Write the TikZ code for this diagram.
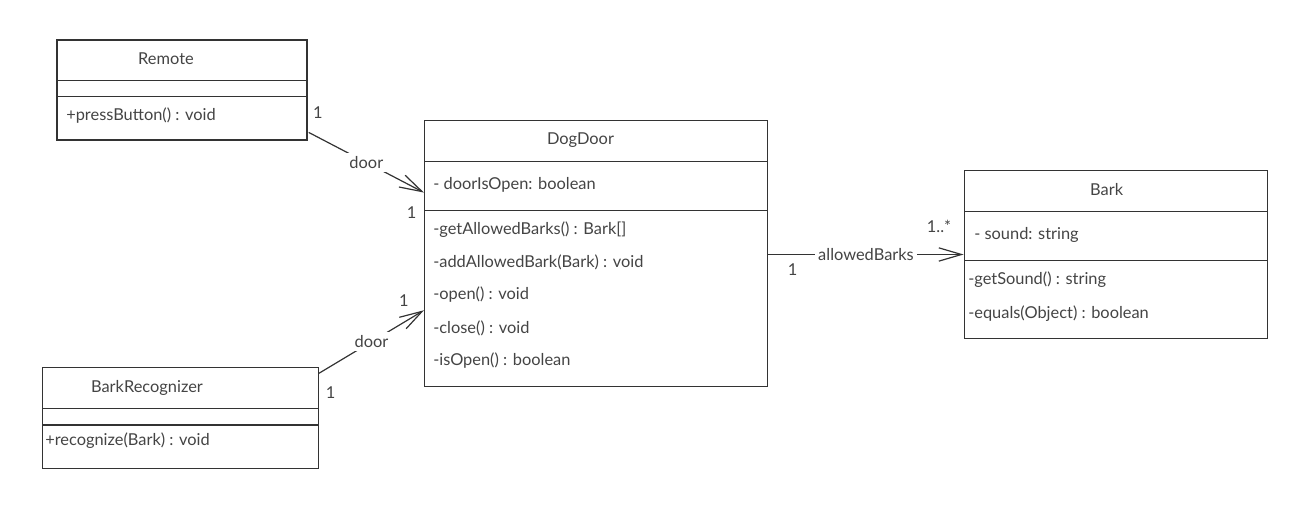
\documentclass[tikz,border=0pt]{standalone}
\usepackage{fontspec}
\setmainfont{Lato}
\usetikzlibrary{arrows.meta,calc}
\definecolor{umlline}{HTML}{333333}
\definecolor{umltext}{HTML}{444444}
\tikzset{
  classbox/.style={draw=umlline, line width=1.1pt, inner sep=0pt},
  divider/.style={draw=umlline, line width=1.1pt},
  title/.style={text=umltext, inner sep=0pt},
  member/.style={anchor=west, text=umltext, inner sep=0pt},
  assoc/.style={draw=umlline, line width=0.9pt, -{Straight Barb[length=17pt,width=10pt]}},
  role/.style={fill=white, text=umltext, inner sep=2.5pt},
  mult/.style={text=umltext, inner sep=0pt},
}

\begin{document}
\begin{tikzpicture}[x=0.75pt, y=-0.75pt, font=\fontsize{12.3}{14}\selectfont]
  \useasboundingbox (0,0) rectangle (1304,509);

  % Remote
  \node[classbox, minimum width=187.5pt, minimum height=75pt] (remote) at (182,90) {};
  \draw[divider] (57,80.7) -- (307,80.7) (57,96.7) -- (307,96.7);
  \node[title] (remoteName) at (166,59) {Remote};
  \node[member] (pressButton) at (66,116) {+pressButton() : void};

  % BarkRecognizer
  \node[classbox, minimum width=206.7pt, minimum height=75.75pt] (recog) at (180.5,417.8) {};
  \draw[divider] (42.7,408.3) -- (318.3,408.3) (42.7,425) -- (318.3,425);
  \node[title] (recogName) at (147,387.5) {BarkRecognizer};
  \node[member] (recognize) at (45,441) {+recognize(Bark) : void};

  % DogDoor
  \node[classbox, minimum width=257.25pt, minimum height=199.5pt] (dogdoor) at (596.2,253.7) {};
  \draw[divider] (424.7,161.7) -- (767.7,161.7) (424.7,210.7) -- (767.7,210.7);
  \node[title] (dogdoorName) at (580.5,140) {DogDoor};
  \node[member] (doorIsOpen) at (433,185) {- doorIsOpen: boolean};
  \node[member] (getAllowed) at (433,230) {-getAllowedBarks() : Bark[]};
  \node[member] (addAllowed) at (433,262.7) {-addAllowedBark(Bark) : void};
  \node[member] (open) at (433,295) {-open() : void};
  \node[member] (close) at (433,328.3) {-close() : void};
  \node[member] (isOpen) at (433,360.7) {-isOpen() : boolean};

  % Bark
  \node[classbox, minimum width=227.5pt, minimum height=125.7pt] (bark) at (1116,254.5) {};
  \draw[divider] (964.3,211.7) -- (1267.7,211.7) (964.3,260.7) -- (1267.7,260.7);
  \node[title] (barkName) at (1106.7,190) {Bark};
  \node[member] (sound) at (974,235) {- sound: string};
  \node[member] (getSound) at (968,279.3) {-getSound() : string};
  \node[member] (equals) at (968,313.3) {-equals(Object) : boolean};

  % associations
  \draw[assoc] ($(remote.south east)+(1,-8.3)$) -- node[role] (doorA) {door} ($(dogdoor.north west)+(0,72.6)$);
  \draw[assoc] ($(recog.north east)+(0,6.7)$) -- node[role] (doorB) {door} ($(dogdoor.north west)+(0,190.3)$);
  \draw[assoc] (dogdoor.east |- bark.west) -- node[role] (allowed) {allowedBarks} (bark.west);

  % multiplicities
  \node[mult] (mRemote) at (318,113) {1};
  \node[mult] (mDoorA) at (411.7,213) {1};
  \node[mult] (mDoorB) at (404,300.7) {1};
  \node[mult] (mRecog) at (330.7,392.7) {1};
  \node[mult] (mDoorC) at (792.7,270) {1};
  \node[mult] (mBark) at (939,226.7) {1..*};
\end{tikzpicture}
\end{document}
